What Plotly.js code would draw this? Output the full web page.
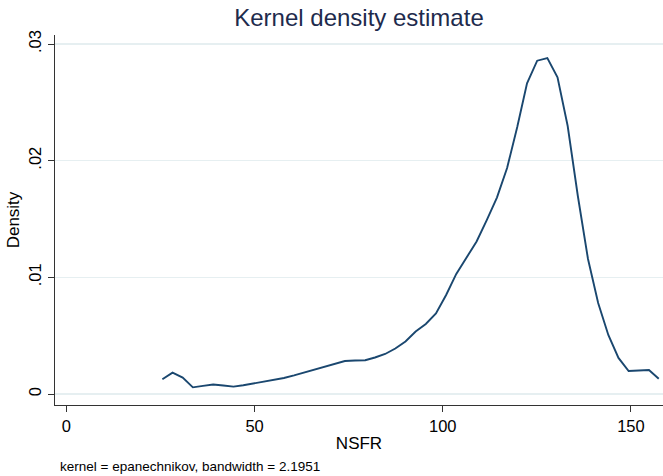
<!DOCTYPE html>
<html>
<head>
<meta charset="utf-8">
<script src="https://cdn.plot.ly/plotly-3.0.1.min.js"></script>
<style>html,body{margin:0;padding:0;background:#fff;}#chart{width:663px;height:476px;}</style>
</head>
<body>
<div id="chart"></div>
<script>
// Evaluation points of the kernel density (NSFR)
const nsfr = [25.5, 28.2, 30.9, 33.6, 36.3, 39.0, 41.7, 44.4, 47.0, 49.7,
              52.4, 55.1, 57.8, 60.5, 63.2, 65.9, 68.6, 71.3, 74.0, 76.7,
              79.4, 82.0, 84.7, 87.4, 90.1, 92.8, 95.5, 98.2, 100.9, 103.6,
              106.3, 109.0, 111.7, 114.4, 117.1, 119.8, 122.4, 125.1, 127.8, 130.5,
              133.2, 135.9, 138.6, 141.3, 144.0, 146.7, 149.4, 152.1, 154.8, 157.4];
// Estimated density values
const density = [0.00126, 0.00183, 0.00141, 0.00057, 0.00070, 0.00081, 0.00073, 0.00063, 0.00075, 0.00090,
                 0.00107, 0.00120, 0.00137, 0.00159, 0.00184, 0.00207, 0.00236, 0.00261, 0.00283, 0.00287,
                 0.00289, 0.00313, 0.00343, 0.00390, 0.00450, 0.00536, 0.00600, 0.00690, 0.00849, 0.01029,
                 0.01174, 0.01307, 0.01491, 0.01684, 0.01937, 0.02288, 0.02663, 0.02857, 0.02880, 0.02714,
                 0.02297, 0.01697, 0.01157, 0.00780, 0.00506, 0.00309, 0.00197, 0.00201, 0.00206, 0.00131];
const xTickVals = [0, 50, 100, 150];
const yTickVals = [0, 0.01, 0.02, 0.03];
const yTickText = ["0", ".01", ".02", ".03"];

const FONT = "Liberation Sans, Arial, sans-serif";

const trace = {
  x: nsfr, y: density, type: "scatter", mode: "lines",
  line: {color: "#1a476f", width: 1.9},
  hoverinfo: "skip", showlegend: false
};

const layout = {
  width: 663, height: 476,
  margin: {l: 55, r: 0, t: 35, b: 71},
  paper_bgcolor: "#ffffff", plot_bgcolor: "#ffffff",
  font: {family: FONT, color: "#000000"},
  title: {
    text: "Kernel density estimate",
    font: {family: FONT, size: 24, color: "#1e2b4d"},
    x: 0.5, xref: "paper", xanchor: "center",
    y: 1 - 18/476, yref: "container", yanchor: "middle"
  },
  xaxis: {
    range: [-3.03, 158.53],
    tickvals: xTickVals,
    ticks: "outside", ticklen: 6, tickcolor: "#333333", tickwidth: 1,
    showgrid: false, zeroline: false,
    showline: true, linecolor: "#333333", linewidth: 1,
    tickfont: {family: FONT, size: 16.5, color: "#000"},
    title: {text: "NSFR", font: {family: FONT, size: 17, color: "#000"}, standoff: 3}
  },
  yaxis: {
    range: [-0.000943, 0.030771],
    tickvals: yTickVals, ticktext: yTickText,
    tickangle: -90,
    ticks: "outside", ticklen: 6, tickcolor: "#333333", tickwidth: 1,
    showgrid: true, gridcolor: "#e6eff1", gridwidth: 1.5,
    zeroline: false,
    showline: true, linecolor: "#333333", linewidth: 1,
    tickfont: {family: FONT, size: 16.5, color: "#000"},
    title: {text: "Density", font: {family: FONT, size: 17, color: "#000"}, standoff: 2}
  },
  annotations: [{
    text: "kernel = epanechnikov, bandwidth = 2.1951",
    xref: "paper", yref: "paper",
    x: 0.005, xanchor: "left",
    y: -(466 - 405) / 370, yanchor: "middle",
    showarrow: false,
    font: {family: FONT, size: 13.5, color: "#000"}
  }]
};

Plotly.newPlot("chart", [trace], layout, {displayModeBar: false, staticPlot: true});
</script>
</body>
</html>
